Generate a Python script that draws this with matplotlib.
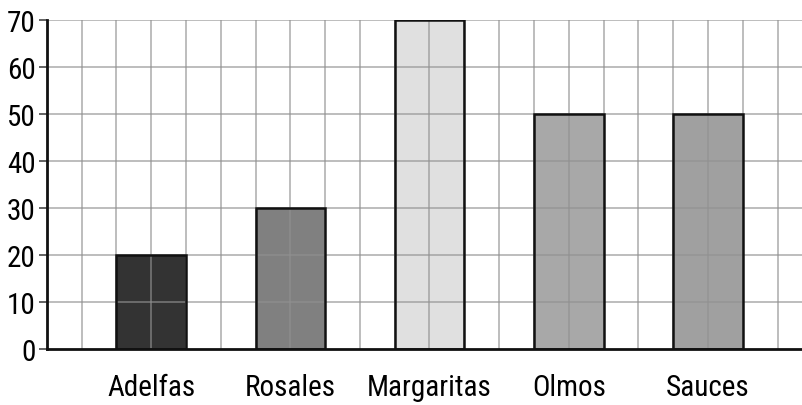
import matplotlib
matplotlib.use("Agg")
import matplotlib.pyplot as plt
from matplotlib import font_manager

categories = ["Adelfas", "Rosales", "Margaritas", "Olmos", "Sauces"]
values = [20, 30, 70, 50, 50]
colors = ["#333333", "#808080", "#e0e0e0", "#a8a8a8", "#a0a0a0"]
yticks = [0, 10, 20, 30, 40, 50, 60, 70]

fonts = font_manager.fontManager.ttflist
names = {f.name for f in fonts}
fam = "DejaVu Sans"
stretch = "normal"
for cand in ["Liberation Sans Narrow", "Roboto Condensed", "Open Sans Condensed"]:
    if cand in names:
        fam = cand
        break
else:
    if any(f.name == "DejaVu Sans" and f.stretch != "normal" for f in fonts):
        stretch = "condensed"
plt.rcParams['font.family'] = [fam, 'DejaVu Sans']
plt.rcParams['font.stretch'] = stretch

fig = plt.figure(figsize=(8.02, 4.06), dpi=100)
ax = fig.add_axes([46.7/802, 1-350/406, 1-46.7/802, (350-21)/406])

pos = [3 + 4*i for i in range(len(categories))]
ax.bar(pos, values, width=2, color=colors, edgecolor="none", zorder=1)
ax.bar(pos, values, width=2, color="none", edgecolor="#111111", linewidth=1.8, zorder=3)

ax.set_xlim(0, 755.3/34.8)
ax.set_ylim(0, 70)
for x in range(1, 22):
    ax.axvline(x, color="#919191", alpha=0.65, linewidth=1.3, zorder=2)
for y in yticks[1:]:
    ax.axhline(y, color="#919191", alpha=0.65, linewidth=1.3, zorder=2)

ax.set_yticks(yticks)
ax.set_yticklabels([str(v) for v in yticks], fontsize=21)
ax.set_xticks(pos)
ax.set_xticklabels(categories, fontsize=21)
ax.tick_params(axis="x", length=0, pad=17)
ax.tick_params(axis="y", length=6, width=1.3, color="#555555", pad=2)
for s in ["top", "right"]:
    ax.spines[s].set_visible(False)
ax.spines["left"].set_linewidth(2)
ax.spines["bottom"].set_linewidth(2)
ax.spines["left"].set_color("#111111")
ax.spines["bottom"].set_color("#111111")
ax.spines["left"].set_zorder(4)
ax.spines["bottom"].set_zorder(4)

fig.savefig("out.png", dpi=100)
